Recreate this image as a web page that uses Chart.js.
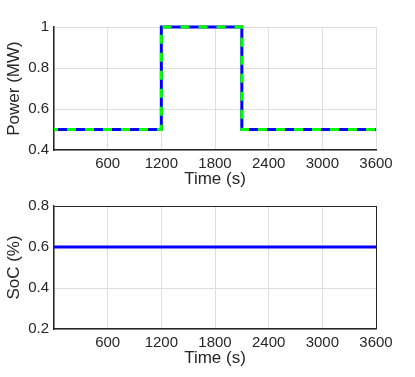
<!DOCTYPE html>
<html>
<head>
<meta charset="utf-8">
<script src="https://cdn.jsdelivr.net/npm/chart.js@4"></script>
<style>
  body { margin: 0; background: #fff; }
  #wrap1 { position: absolute; left: 0; top: 0; width: 415px; height: 190px; }
  #wrap2 { position: absolute; left: 0; top: 190px; width: 415px; height: 187px; }
</style>
</head>
<body>
<div id="wrap1"><canvas id="graficoPotencia"></canvas></div>
<div id="wrap2"><canvas id="graficoSoc"></canvas></div>
<script>
// dados
const tempo = [0, 1200, 1200, 2100, 2100, 3600]
const potencia = [0.5, 0.5, 1, 1, 0.5, 0.5]
const tempoSoc = [0, 3600]
const soc = [0.6, 0.6]
const ticksX = [600, 1200, 1800, 2400, 3000, 3600]

const escuro = '#262626'
const grade = '#dedede'
const fonte = 'Liberation Sans, Arial, sans-serif'

Chart.defaults.font.family = fonte
Chart.defaults.color = escuro

function pontos(xs, ys) {
  return xs.map((x, i) => ({ x: x, y: ys[i] }))
}

function eixoX(comCaixa) {
  return {
    type: 'linear',
    min: 0,
    max: 3600,
    ticks: {
      stepSize: 600,
      padding: 5,
      font: { size: 15 },
      color: escuro,
      maxRotation: 0,
      callback: v => ticksX.includes(v) ? String(v) : ''
    },
    grid: {
      drawTicks: false,
      lineWidth: 1,
      color: ctx => (comCaixa && ctx.tick && ctx.tick.value === 3600) ? escuro : grade
    },
    border: { color: escuro, width: 1.5 },
    title: {
      display: true,
      text: 'Time (s)',
      font: { size: 17 },
      color: escuro,
      padding: { top: 0, bottom: 0 }
    },
    afterFit: s => { s.height = 40 }
  }
}

function eixoY(titulo, min, max, comCaixa) {
  return {
    min: min,
    max: max,
    ticks: {
      stepSize: 0.2,
      padding: 5,
      font: { size: 15 },
      color: escuro,
      callback: v => String(+v.toFixed(1))
    },
    grid: {
      drawTicks: false,
      lineWidth: 1,
      color: ctx => (comCaixa && ctx.tick && Math.abs(ctx.tick.value - max) < 1e-6) ? escuro : grade
    },
    border: { color: escuro, width: 1.5 },
    title: {
      display: true,
      text: titulo,
      font: { size: 17 },
      color: escuro,
      padding: { top: 4, bottom: 0 }
    },
    afterFit: s => { s.width = 54 }
  }
}

const opcoesBase = {
  responsive: true,
  maintainAspectRatio: false,
  animation: false,
  plugins: { legend: { display: false }, tooltip: { enabled: false } },
  elements: { point: { radius: 0 } }
}

const g1 = document.getElementById('graficoPotencia')
new Chart(g1, {
  type: 'line',
  data: {
    datasets: [
      {
        // verde tracejado por cima (indice menor desenha por cima)
        data: pontos(tempo, potencia),
        borderColor: '#00ff00',
        borderWidth: 3,
        borderDash: [9, 9],
        borderDashOffset: 5,
        clip: 6,
        fill: false
      },
      {
        data: pontos(tempo, potencia),
        borderColor: '#0000ff',
        borderWidth: 3,
        clip: 6,
        fill: false
      }
    ]
  },
  options: Object.assign({}, opcoesBase, {
    layout: { padding: { left: 0, right: 39, top: 27, bottom: 0 } },
    scales: {
      x: eixoX(false),
      y: eixoY('Power (MW)', 0.4, 1, false)
    }
  })
})

const g2 = document.getElementById('graficoSoc')
new Chart(g2, {
  type: 'line',
  data: {
    datasets: [{
      data: pontos(tempoSoc, soc),
      borderColor: '#0000ff',
      borderWidth: 3,
      fill: false
    }]
  },
  options: Object.assign({}, opcoesBase, {
    layout: { padding: { left: 0, right: 39, top: 16, bottom: 8 } },
    scales: {
      x: eixoX(true),
      y: eixoY('SoC (%)', 0.2, 0.8, true)
    }
  })
})
</script>
</body>
</html>
